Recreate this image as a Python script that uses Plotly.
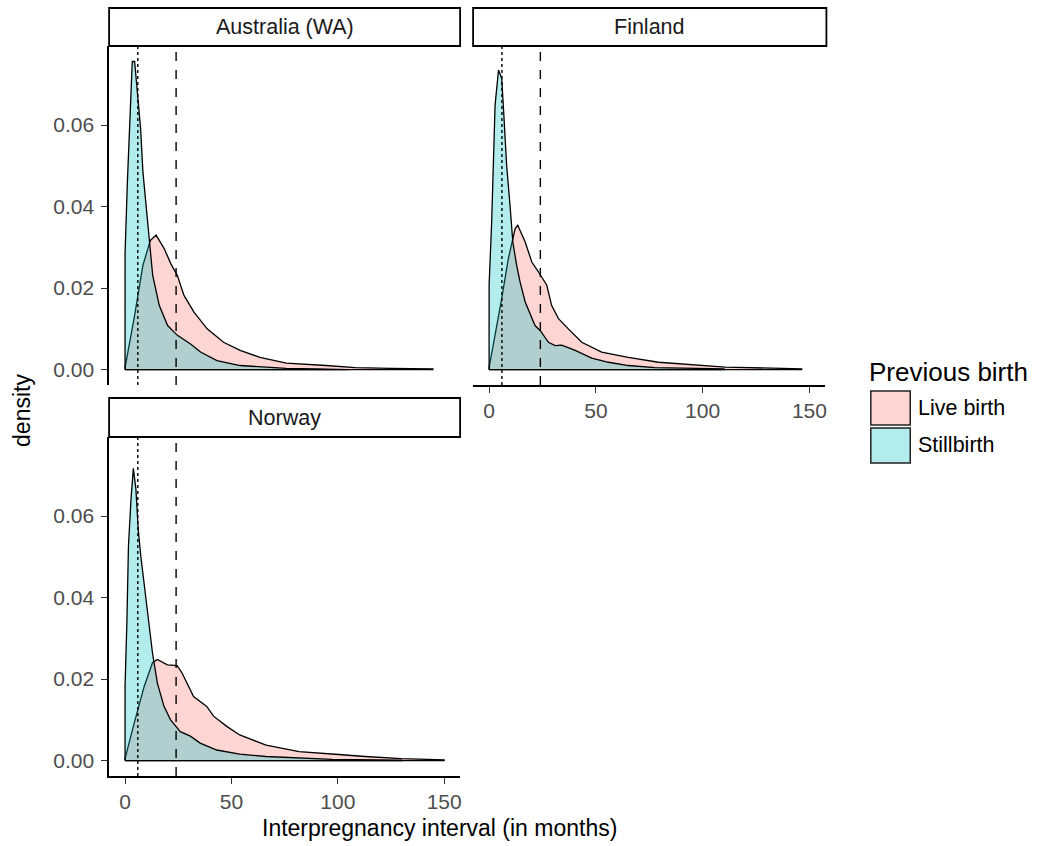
import plotly.graph_objects as go

W, H = 1041, 846

# ---------------- data ----------------
panels = ["Australia (WA)", "Finland", "Norway"]
groups = ["Live birth", "Stillbirth"]

aus_live_x = [0, 4.5, 8.4, 11.9, 14.6, 18.4, 21.5, 24.6, 27.7, 32.4, 38.6, 46.3, 54.1, 63.4, 75.8, 94.4, 108.3, 125.0, 144.7]
aus_live_y = [0.0005, 0.0133, 0.0256, 0.0317, 0.0330, 0.0297, 0.0260, 0.0231, 0.0182, 0.0141, 0.0100, 0.0067, 0.0047, 0.0030, 0.0016, 0.0010, 0.0005, 0.0003, 0.0002]
aus_still_x = [0, 1.1, 2.2, 3.4, 4.5, 6.0, 7.3, 8.4, 9.9, 11.4, 13.0, 16.1, 20.0, 24.6, 30.8, 35.5, 43.2, 54.1, 66.5, 75.8, 90.0, 105.0]
aus_still_y = [0.0285, 0.0460, 0.0612, 0.0756, 0.0756, 0.0674, 0.0592, 0.0485, 0.0403, 0.0313, 0.0231, 0.0157, 0.0108, 0.0084, 0.0063, 0.0043, 0.0022, 0.0010, 0.0006, 0.0003, 0.0002, 0.0001]

fin_live_x = [0, 5.9, 9.0, 12.2, 13.4, 16.9, 20.0, 23.1, 27.0, 29.3, 32.5, 37.1, 43.4, 52.7, 65.2, 79.3, 93.3, 110.6, 146.4]
fin_live_y = [0.0005, 0.0174, 0.0272, 0.0346, 0.0354, 0.0313, 0.0264, 0.0240, 0.0207, 0.0157, 0.0125, 0.0100, 0.0067, 0.0043, 0.0030, 0.0018, 0.0012, 0.0006, 0.0002]
fin_still_x = [0, 1.2, 2.0, 2.8, 4.4, 5.9, 7.0, 8.2, 9.8, 11.1, 12.9, 14.5, 16.9, 21.5, 23.9, 27.8, 30.9, 34.0, 40.3, 48.1, 55.9, 65.2, 77.7, 95.0, 110.0]
fin_still_y = [0.0207, 0.0362, 0.0518, 0.0649, 0.0735, 0.0715, 0.0616, 0.0502, 0.0403, 0.0313, 0.0256, 0.0215, 0.0166, 0.0108, 0.0096, 0.0067, 0.0059, 0.0060, 0.0047, 0.0028, 0.0018, 0.0010, 0.0005, 0.0003, 0.0002]

nor_live_x = [0, 4.3, 9.0, 12.9, 15.2, 19.9, 24.5, 26.8, 32.2, 38.4, 41.6, 47.8, 53.9, 66.3, 81.8, 100.4, 112.8, 129.8, 150.0]
nor_live_y = [0.0005, 0.0092, 0.0182, 0.0240, 0.0248, 0.0235, 0.0233, 0.0215, 0.0157, 0.0133, 0.0109, 0.0084, 0.0063, 0.0038, 0.0022, 0.0015, 0.0010, 0.0005, 0.0002]
nor_still_x = [0, 0.9, 1.6, 2.8, 3.9, 5.1, 6.2, 7.4, 8.7, 10.5, 12.9, 15.2, 18.3, 21.4, 26.0, 30.7, 35.3, 43.1, 53.9, 66.3, 81.8, 97.3, 130.0]
nor_still_y = [0.0182, 0.0346, 0.0526, 0.0641, 0.0717, 0.0666, 0.0567, 0.0502, 0.0444, 0.0362, 0.0264, 0.0190, 0.0133, 0.0100, 0.0071, 0.0060, 0.0043, 0.0026, 0.0016, 0.0010, 0.0006, 0.0003, 0.0001]

vline_dotted = 6      # months
vline_dashed = 24     # months

x_ticks = [0, 50, 100, 150]
y_ticks = [0.00, 0.02, 0.04, 0.06]

# ---------------- styling ----------------
FILL = {"Live birth": "rgba(248,118,109,0.3)", "Stillbirth": "rgba(0,191,196,0.3)"}
KEY = {"Live birth": "#FDD6D3", "Stillbirth": "#B2ECED"}
FONT = "Arial, Liberation Sans, sans-serif"

def px_x(p):
    return p / W

def px_y(p):
    return 1 - p / H

series = {
    "Australia (WA)": [(aus_live_x, aus_live_y), (aus_still_x, aus_still_y)],
    "Finland": [(fin_live_x, fin_live_y), (fin_still_x, fin_still_y)],
    "Norway": [(nor_live_x, nor_live_y), (nor_still_x, nor_still_y)],
}
axis_ids = {"Australia (WA)": ("x", "y"), "Finland": ("x2", "y2"), "Norway": ("x3", "y3")}

fig = go.Figure()
for panel in panels:
    xa, ya = axis_ids[panel]
    for g, (xs, ys) in zip(groups, series[panel]):
        # close polygon down to the baseline
        poly_x = [xs[0]] + list(xs) + [xs[-1], xs[0]]
        poly_y = [0] + list(ys) + [0, 0]
        fig.add_trace(go.Scatter(
            x=poly_x, y=poly_y, mode="lines", fill="toself",
            fillcolor=FILL[g], line=dict(color="black", width=1.3),
            name=g, legendgroup=g, showlegend=False,
            xaxis=xa, yaxis=ya, hoverinfo="skip"))

# ---------------- axes ----------------
xr = [-7.5, 157.5]
yr = [-0.00378, 0.0794]

dom = {
    "Australia (WA)": ([px_x(109.3), px_x(461)], [px_y(385), px_y(46)]),
    "Finland": ([px_x(474), px_x(827)], [px_y(385), px_y(46)]),
    "Norway": ([px_x(109.3), px_x(461)], [px_y(776), px_y(437)]),
}

tickfont = dict(family=FONT, size=21, color="#4D4D4D")

def xaxis(domain, anchor, show):
    d = dict(domain=domain, anchor=anchor, range=xr, showgrid=False, zeroline=False,
             tickvals=x_ticks, fixedrange=True)
    if show:
        d.update(showline=True, linecolor="black", linewidth=1.5, ticks="outside",
                 ticklen=6, tickwidth=1.3, tickcolor="#333333", showticklabels=True,
                 tickfont=tickfont)
    else:
        d.update(showline=False, ticks="", showticklabels=False)
    return d

def yaxis(domain, anchor, show):
    d = dict(domain=domain, anchor=anchor, range=yr, showgrid=False, zeroline=False,
             tickvals=y_ticks, tickformat=".2f", fixedrange=True)
    if show:
        d.update(showline=True, linecolor="black", linewidth=1.5, ticks="outside",
                 ticklen=6, tickwidth=1.3, tickcolor="#333333", showticklabels=True,
                 tickfont=tickfont, ticklabelstandoff=3)
    else:
        d.update(showline=False, ticks="", showticklabels=False)
    return d

fig.update_layout(
    xaxis=xaxis(dom["Australia (WA)"][0], "y", False),
    yaxis=yaxis(dom["Australia (WA)"][1], "x", True),
    xaxis2=xaxis(dom["Finland"][0], "y2", True),
    yaxis2=yaxis(dom["Finland"][1], "x2", False),
    xaxis3=xaxis(dom["Norway"][0], "y3", True),
    yaxis3=yaxis(dom["Norway"][1], "x3", True),
)

shapes = []
annotations = []

# reference lines
for panel in panels:
    xa, ya = axis_ids[panel]
    for val, dash in [(vline_dotted, "dot"), (vline_dashed, "dash")]:
        shapes.append(dict(type="line", xref=xa, yref=f"{ya} domain", x0=val, x1=val,
                           y0=0, y1=1, line=dict(color="black", width=1.4, dash=dash),
                           layer="above"))

# facet strips
strips = {
    "Australia (WA)": (109.3, 461, 8, 46),
    "Finland": (474, 828, 8, 46),
    "Norway": (109.3, 461, 398, 437),
}
for panel, (x0, x1, y0, y1) in strips.items():
    shapes.append(dict(type="rect", xref="paper", yref="paper",
                       x0=px_x(x0), x1=px_x(x1), y0=px_y(y1), y1=px_y(y0),
                       fillcolor="white", line=dict(color="black", width=1.8)))
    annotations.append(dict(text=panel, xref="paper", yref="paper",
                            x=px_x((x0 + x1) / 2), y=px_y((y0 + y1) / 2),
                            xanchor="center", yanchor="middle", showarrow=False,
                            font=dict(family=FONT, size=21.5, color="#1A1A1A")))

# axis titles
annotations.append(dict(text="Interpregnancy interval (in months)", xref="paper", yref="paper",
                        x=px_x(440), y=px_y(828), xanchor="center", yanchor="middle",
                        showarrow=False, font=dict(family=FONT, size=23, color="black")))
annotations.append(dict(text="density", xref="paper", yref="paper",
                        x=px_x(22), y=px_y(410), xanchor="center", yanchor="middle",
                        textangle=-90, showarrow=False,
                        font=dict(family=FONT, size=23, color="black")))

# legend (drawn manually to match ggplot key boxes)
annotations.append(dict(text="Previous birth", xref="paper", yref="paper",
                        x=px_x(869), y=px_y(372), xanchor="left", yanchor="middle",
                        showarrow=False, font=dict(family=FONT, size=26, color="black")))
key_rows = [(391, 425), (428, 463)]
for g, (ky0, ky1) in zip(groups, key_rows):
    shapes.append(dict(type="rect", xref="paper", yref="paper",
                       x0=px_x(872.5), x1=px_x(912), y0=px_y(ky1), y1=px_y(ky0),
                       fillcolor=KEY[g], line=dict(color="#222222", width=1.5)))
    annotations.append(dict(text=g, xref="paper", yref="paper",
                            x=px_x(918), y=px_y((ky0 + ky1) / 2), xanchor="left",
                            yanchor="middle", showarrow=False,
                            font=dict(family=FONT, size=21.5, color="black")))

fig.update_layout(
    width=W, height=H, margin=dict(l=0, r=0, t=0, b=0),
    paper_bgcolor="white", plot_bgcolor="white",
    shapes=shapes, annotations=annotations, showlegend=False,
    font=dict(family=FONT),
)

fig.write_html("out.html")
